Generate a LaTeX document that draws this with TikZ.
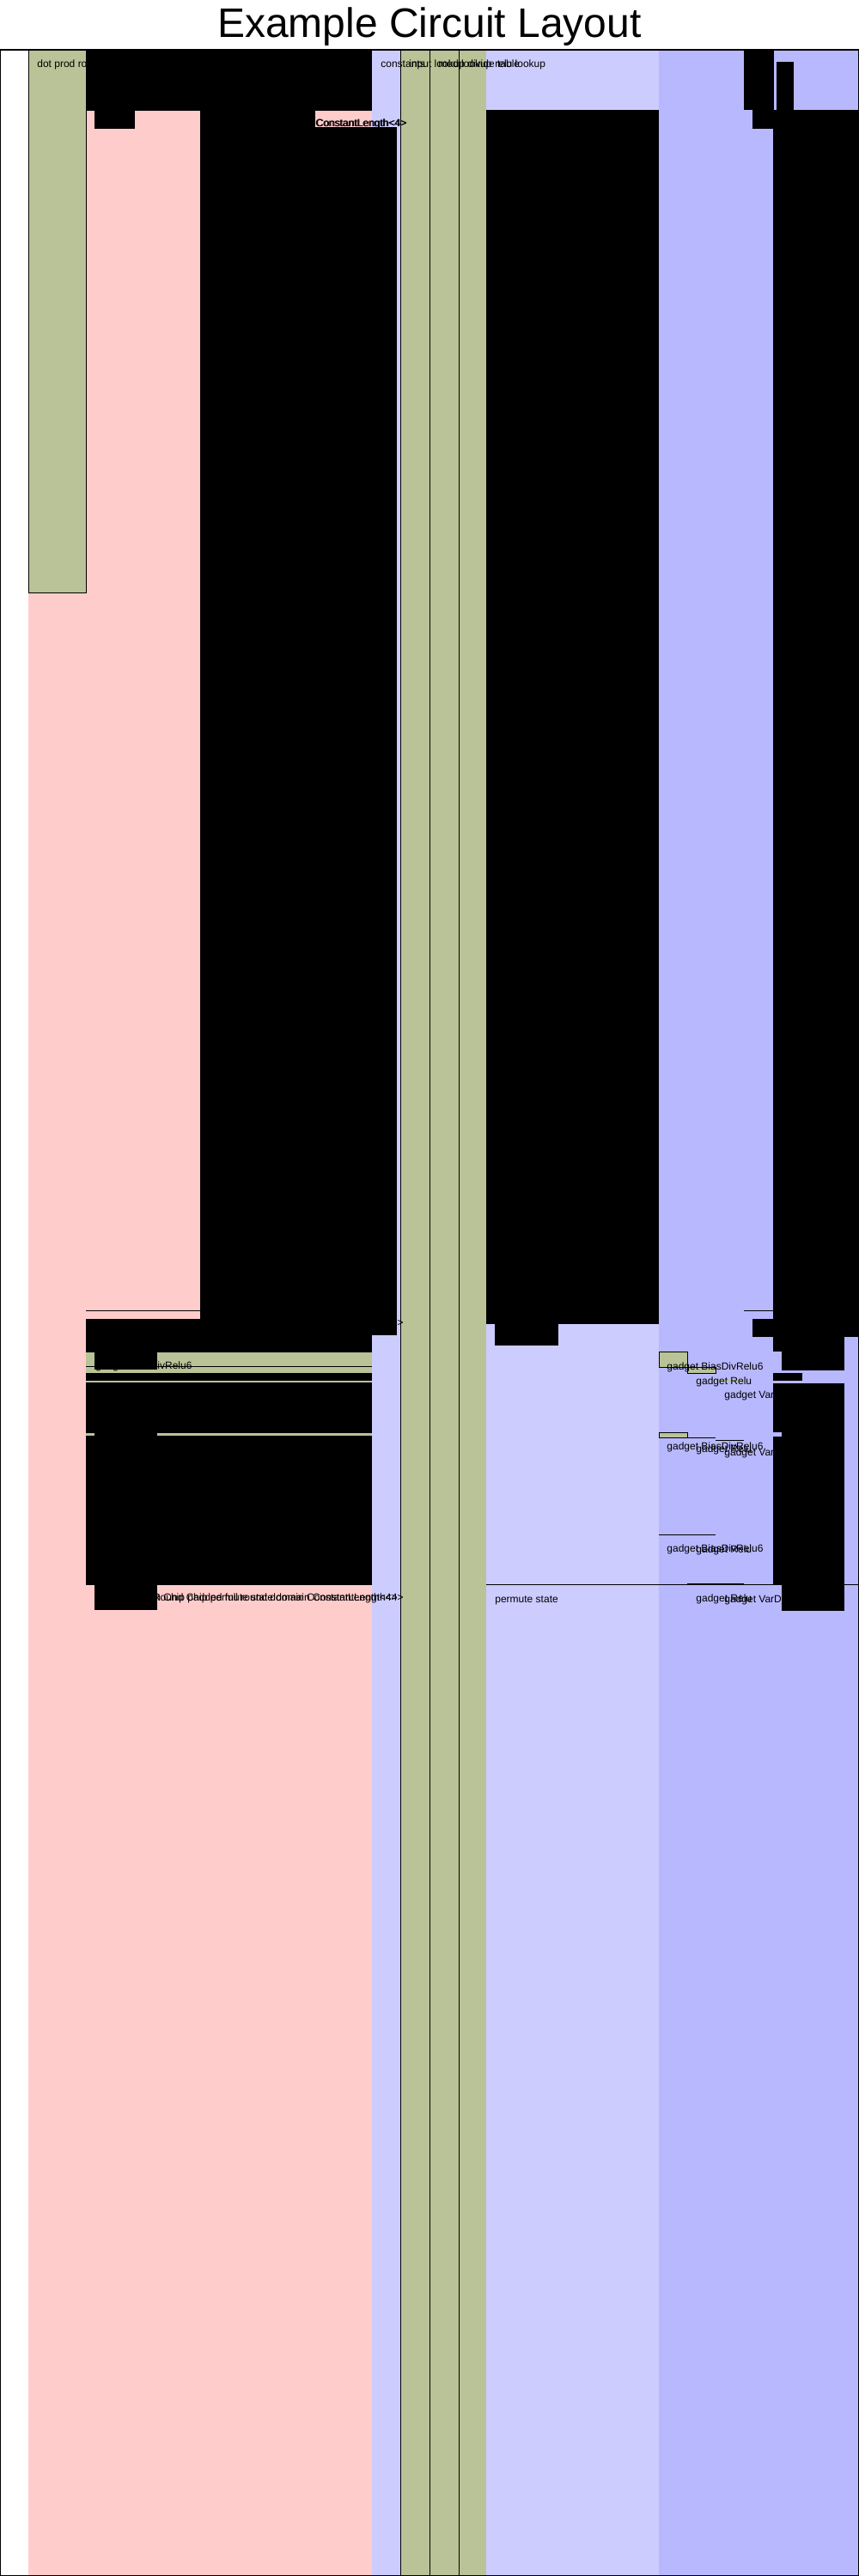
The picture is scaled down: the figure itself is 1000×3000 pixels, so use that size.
\documentclass[tikz,border=0pt]{standalone}
\usepackage{fontspec}
\setmainfont{Liberation Sans}
\definecolor{advred}{HTML}{FFCCCC}
\definecolor{fixblue}{HTML}{CCCCFF}
\definecolor{selblue}{HTML}{B8B8FF}
\definecolor{regreen}{RGB}{185,195,151}
\begin{document}
\begin{tikzpicture}[x=0.5pt,y=-0.5pt,
  lbl/.style={anchor=base west,inner sep=0pt,font=\fontsize{6}{7}\selectfont},
  lble/.style={anchor=base east,inner sep=0pt,font=\fontsize{6}{7}\selectfont},
  regbox/.style={fill=regreen,draw=black,line width=0.5pt},
  edgeline/.style={draw=black,line width=0.5pt},
  blob/.style={fill=black}]
\useasboundingbox (0,0) rectangle (1000,3000);
\fill[white] (0,0) rectangle (1000,3000);
\node[anchor=base,inner sep=0pt,font=\fontsize{24}{28}\selectfont] (title) at (500,43) {Example Circuit Layout};
% columns
\fill[advred] (33,58) rectangle (433,3000);
\fill[fixblue] (433,58) rectangle (466,3000);
\path[regbox] (466,58) rectangle (500,3000);
\path[regbox] (500,58) rectangle (534,3000);
\path[regbox] (534,58) rectangle (566,3000);
\fill[fixblue] (566,58) rectangle (767,3000);
\fill[selblue] (767,58) rectangle (1000,3000);
% dot prod region
\path[regbox] (33,58) rectangle (100,690);
\node[lbl] (dotprod) at (43,78) {dot prod row};
% header labels
\node[lbl] (hconst) at (443,78) {constants};
\node[lbl] (hinput) at (476,78) {input lookup};
\node[lbl] (hmod) at (510,78) {mod lookup};
\node[lbl] (hdiv) at (544,78) {divide table};
\node[lbl] (hrelu) at (576,78) {relu lookup};
% left black masses
\path[blob] (100,58) rectangle (433,129);
\path[blob] (233,129) rectangle (367,1536);
\path[blob] (367,148) rectangle (462,1555);
\path[blob] (110,129) rectangle (157,150);
\node[lbl] (clenA) at (367,147) {ConstantLength<4>};
\node[lbl] (clenB) at (368,147) {ConstantLength<4>};
\draw[edgeline] (100,1526) -- (233,1526);
\path[blob] (100,1536) rectangle (433,1846);
\fill[regreen] (100,1575) rectangle (433,1599);
\draw[edgeline] (100,1591) -- (433,1591);
\path[blob] (110,1575) rectangle (183,1595);
\node[lbl] (lbias) at (111,1594) {gadget BiasDivRelu6};
\fill[regreen] (100,1608) rectangle (433,1610);
\fill[regreen] (100,1669) rectangle (433,1672);
\path[blob] (110,1665) rectangle (183,1680);
\node[lble] (clenC) at (470,1544) {ConstantLength<4>};
\path[blob] (110,1846) rectangle (183,1875);
\node[lble] (roundA) at (470,1864) {Round Chip permute state domain ConstantLength<4>};
\node[lble] (roundB) at (463,1864) {Sign Chip padded full round domain ConstantLength<4>};
% middle blue black masses
\path[blob] (566,128) rectangle (767,1542);
\path[blob] (576,1542) rectangle (650,1567);
\draw[edgeline] (566,1845) -- (1000,1845);
\node[lbl] (perm) at (576,1866) {permute state};
% right gadget labels
\path[regbox] (767,1574) rectangle (800,1592);
\path[regbox] (800,1592) rectangle (833,1599);
\fill[regreen] (833,1607) rectangle (866,1609);
\node[lbl] (g1a) at (776,1595) {gadget BiasDivRelu6};
\node[lbl] (g1b) at (810,1612) {gadget Relu};
\node[lbl] (g1c) at (843,1628) {gadget VarDivRound};
\path[regbox] (767,1668) rectangle (800,1674);
\draw[edgeline] (800,1674) -- (833,1674);
\draw[edgeline] (833,1677) -- (866,1677);
\node[lbl] (g2a) at (776,1688) {gadget BiasDivRelu6};
\node[lbl] (g2b) at (810,1691) {gadget Relu};
\node[lbl] (g2c) at (843,1695) {gadget VarDivRound};
\draw[edgeline] (767,1787) -- (833,1787);
\node[lbl] (g3a) at (776,1807) {gadget BiasDivRelu6};
\node[lbl] (g3b) at (810,1808) {gadget Relu};
\draw[edgeline] (800,1844) -- (866,1844);
\node[lbl] (g4b) at (810,1865) {gadget Relu};
\node[lbl] (g4c) at (843,1866) {gadget VarDivRound};
% right black masses
\path[blob] (866,58) rectangle (901,128);
\path[blob] (904,72) rectangle (924,128);
\path[blob] (876,128) rectangle (900,150);
\path[blob] (900,128) rectangle (1000,1557);
\draw[edgeline] (866,1526) -- (900,1526);
\path[blob] (876,1536) rectangle (900,1557);
\path[blob] (900,1557) rectangle (983,1574);
\path[blob] (910,1574) rectangle (983,1596);
\path[blob] (900,1599) rectangle (934,1608);
\path[blob] (900,1611) rectangle (983,1668);
\path[blob] (910,1668) rectangle (983,1673);
\path[blob] (900,1673) rectangle (983,1845);
\path[blob] (910,1845) rectangle (983,1876);
% frame
\draw[line width=0.8pt] (0,58) rectangle (1000,3000);
\end{tikzpicture}
\end{document}
